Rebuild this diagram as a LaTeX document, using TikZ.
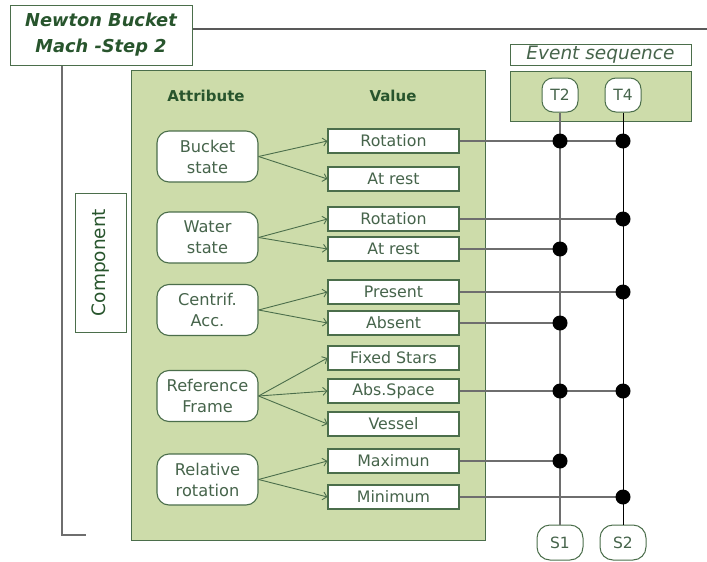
\documentclass[tikz,border=0pt]{standalone}
\usepackage{fontspec}
\setmainfont{DejaVu Sans}
\usepackage{xcolor}
\usetikzlibrary{positioning,calc,arrows.meta}

\definecolor{panelgreen}{RGB}{205,220,170}
\definecolor{framegreen}{RGB}{75,110,75}
\definecolor{headgreen}{RGB}{40,85,45}
\definecolor{boxtext}{RGB}{70,100,75}
\definecolor{wiregray}{RGB}{110,110,110}

\begin{document}
\begin{tikzpicture}[x=1pt, y=-1pt,
    panel/.style={draw=framegreen, line width=1pt, fill=panelgreen, inner sep=0pt},
    valbox/.style={draw=framegreen, line width=1.1pt, fill=white, minimum width=131pt, minimum height=24pt, inner sep=0pt, text=boxtext, font=\fontsize{15.8}{18}\selectfont},
    attrbox/.style={draw=framegreen, line width=1.1pt, fill=white, rounded corners=12pt, minimum width=101pt, minimum height=51pt, inner sep=0pt, align=center, text=boxtext, font=\fontsize{16.2}{21}\selectfont},
    header/.style={text=headgreen, font=\bfseries\fontsize{15}{17}\selectfont},
    statebox/.style={draw=framegreen, line width=1pt, fill=white, rounded corners=11pt, minimum height=34pt, inner sep=0pt, text=boxtext, font=\fontsize{15.5}{17}\selectfont},
    link/.style={draw=framegreen, line width=0.9pt, -{Straight Barb[length=4pt,width=8pt]}},
    wire/.style={draw=wiregray, line width=1.4pt},
    dot/.style={circle, fill=black, inner sep=0pt, minimum size=15pt}]
    \useasboundingbox (0,0) rectangle (707,562);

    % title and frame lines
    \node [draw=framegreen, line width=1pt, fill=white, minimum width=182pt, minimum height=60pt, align=center, text=headgreen, font=\bfseries\itshape\fontsize{17.8}{26}\selectfont] (title) at (101,35) {Newton Bucket\\Mach -Step 2};
    \coordinate (rim) at (707,29);
    \coordinate (corner) at (62,535);
    \coordinate (foot) at (86,535);
    \draw [line width=1.4pt, draw=black!65] ([yshift=6pt]title.east) -- (rim);
    \draw [line width=1.4pt, draw=wiregray] (title.south -| corner) -- (corner) -- (foot);

    \node [draw=framegreen, line width=1pt, rotate=90, minimum width=139pt, minimum height=51pt, inner sep=0pt, text=headgreen, font=\fontsize{18.5}{22}\selectfont] (component) at (100.5,262.5) {Component};

    % attribute / value panel
    \node [panel, minimum width=354pt, minimum height=470pt] (panel) at (308,305) {};
    \node [header] (attrhead) at (206,96) {Attribute};
    \node [header] (valhead) at (393,96) {Value};

    \node [attrbox] (bucket) at (207.5,156.5) {Bucket\\state};
    \node [attrbox] (water) at (207.5,237.5) {Water\\state};
    \node [attrbox] (centrif) at (207.5,310) {Centrif.\\Acc.};
    \node [attrbox] (frame) at (207.5,396) {Reference\\Frame};
    \node [attrbox] (relrot) at (207.5,479.5) {Relative\\rotation};

    \foreach \name/\ypos/\txt in {rotb/141/Rotation, restb/179/At rest, rotw/219/Rotation, restw/249/At rest, pres/292/Present, abs/323/Absent, stars/358/Fixed Stars, space/391/Abs.Space, vessel/424/Vessel, max/461/Maximun, min/497/Minimum}
        \node [valbox] (\name) at (393.5,\ypos) {\txt};

    \foreach \a/\v in {bucket/rotb, bucket/restb, water/rotw, water/restw, centrif/pres, centrif/abs, frame/stars, frame/space, frame/vessel, relrot/max, relrot/min}
        \draw [link] (\a.east) -- (\v.west);

    % event sequence
    \node [draw=framegreen, line width=1pt, fill=white, minimum width=181pt, minimum height=21pt, inner sep=0pt, text=boxtext, font=\itshape\fontsize{18.5}{20}\selectfont] (evlabel) at (600.5,55) {Event sequence};
    \node [panel, minimum width=181pt, minimum height=50pt] (events) at (600.5,96) {};
    \node [statebox, minimum width=36pt] (t2) at (560,95) {T2};
    \node [statebox, minimum width=36pt] (t4) at (623,95) {T4};
    \node [statebox, minimum width=46pt, minimum height=35pt, rounded corners=13pt] (s1) at (560,542.5) {S1};
    \node [statebox, minimum width=46pt, minimum height=35pt, rounded corners=13pt] (s2) at (623,542.5) {S2};

    \draw [wire] (t2) -- (s1);
    \draw [line width=1pt] (t4) -- (s2);

    \foreach \v/\col in {rotb/t4, rotw/t4, restw/t2, pres/t4, abs/t2, space/t4, max/t2, min/t4}
        \draw [wire] (\v.east) -- (\v.east -| \col);

    \foreach \v/\col [count=\i] in {rotb/t2, rotb/t4, rotw/t4, restw/t2, pres/t4, abs/t2, space/t2, space/t4, max/t2, min/t4}
        \node [dot] (dot\i) at (\v.east -| \col) {};
\end{tikzpicture}
\end{document}
